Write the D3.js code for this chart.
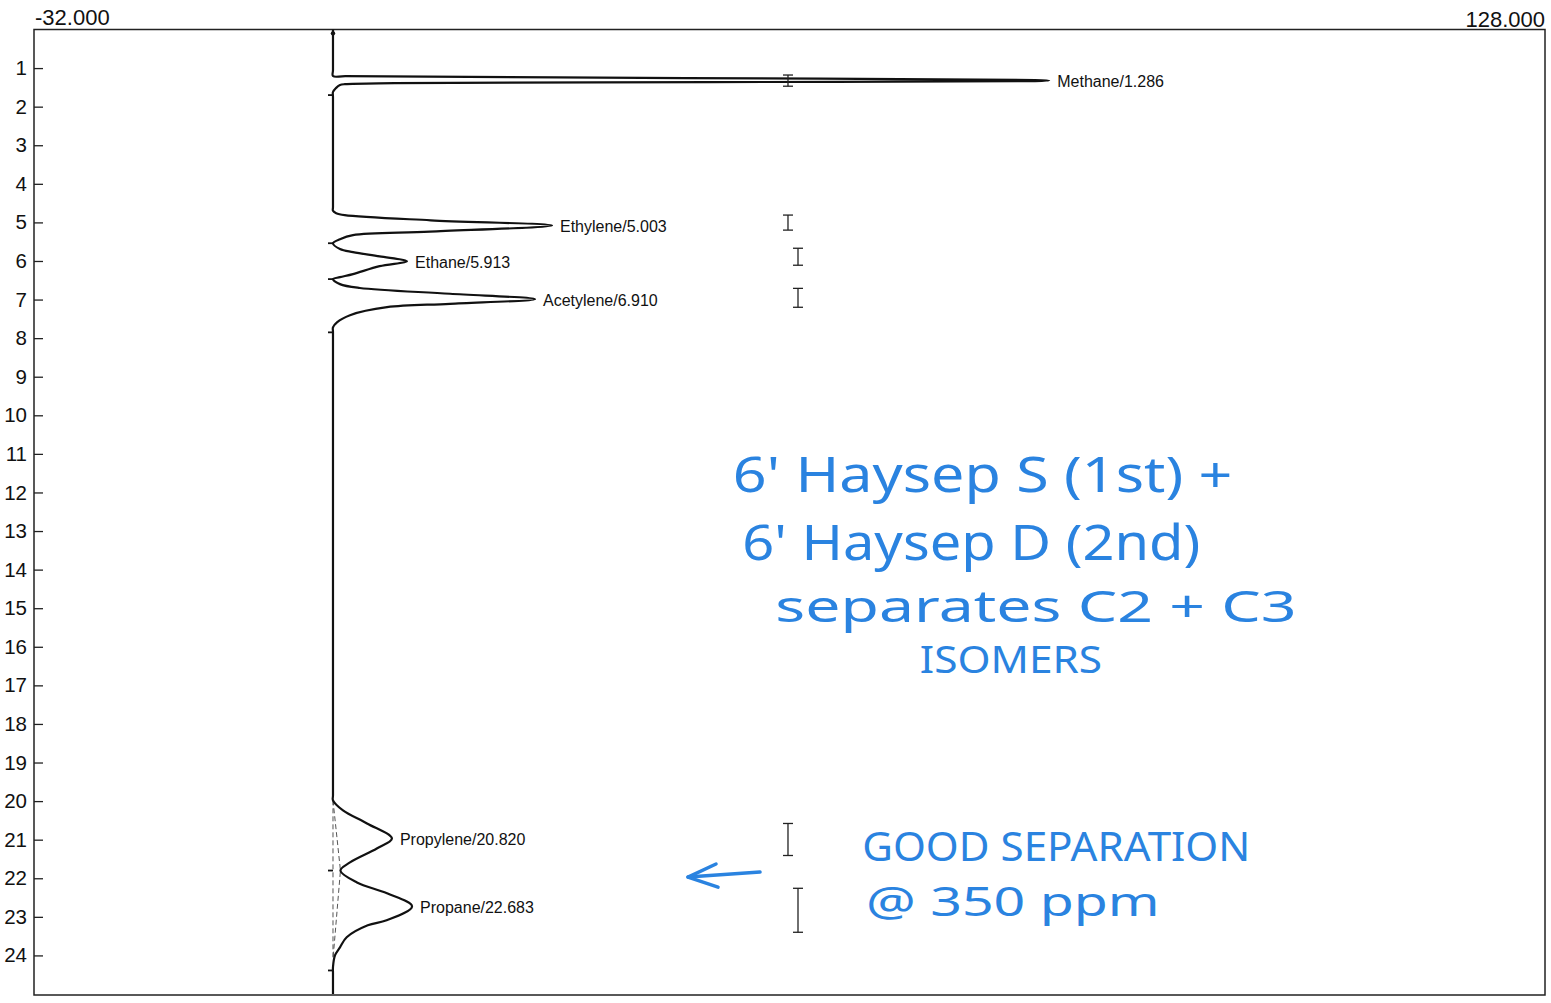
<!DOCTYPE html>
<html>
<head>
<meta charset="utf-8">
<script src="https://cdn.jsdelivr.net/npm/d3@7"></script>
<style>
  body { margin: 0; background: #fff; }
  svg { display: block; }
</style>
</head>
<body>
<div id="chart"></div>
<script>
// chromatogram, drawn sideways: time (min) runs down, signal runs right
var traceTime = [0, 1.05, 1.205, 1.21, 1.26, 1.31, 1.325, 1.338, 1.364, 1.39, 1.416, 1.44, 1.52, 1.62,
  1.75, 4.60, 4.70, 4.76, 4.81, 4.945, 5.08, 5.24, 5.33, 5.435, 5.54,
  5.69, 5.77, 5.88, 6.005, 6.135, 6.34, 6.42, 6.47,
  6.60, 6.70, 6.85, 6.99, 7.11, 7.198, 7.405, 7.59, 7.72,
  7.85, 19.85, 19.98, 20.24, 20.58, 20.97, 21.23, 21.59, 21.80,
  22.11, 22.39, 22.73, 23.09, 23.22, 23.53, 23.79, 24.0, 24.3, 24.45, 25];
var traceSignal = [-0.34, -0.34, -0.34, 1, 37, 74, 75.5, 74, 39.6, 6.2, 0.93, 0.4, -0.03, -0.34,
  -0.34, -0.34, -0.34, 0.0, 0.9, 10, 22.85, 9.93, 1.78, 0.4, -0.34,
  0.4, 1.78, 4.6, 7.5, 4.6, 1.78, 0.4, -0.34,
  0.4, 2.5, 12.05, 21.05, 12.05, 5.38, 1.46, 0.08, -0.34,
  -0.34, -0.34, -0.34, 0.72, 3.26, 5.9, 4.3, 1.46, 0.45,
  2.2, 5.38, 8.03, 5.34, 3.34, 1.11, 0.4, -0.13, -0.34, -0.34, -0.34];

var peakNames = ["Methane", "Ethylene", "Ethane", "Acetylene", "Propylene", "Propane"];
var peakRT = ["1.286", "5.003", "5.913", "6.910", "20.820", "22.683"];

// integration windows ("I" marks)
var winStart = [1.18, 4.81, 5.67, 6.71, 20.58, 22.26];
var winEnd = [1.47, 5.20, 6.11, 7.20, 21.41, 23.40];
var winLevel = [47.84, 47.84, 48.9, 48.9, 47.84, 48.9];

// baseline event ticks
var eventTimes = [1.70, 5.54, 6.47, 7.85, 21.80, 24.39];
// C3 baseline drop: start, valley, end
var dropTime = [19.98, 21.80, 24.1];
var dropSignal = [-0.34, 0.45, -0.34];

var yTicks = d3.range(1, 25);
var xDomain = [-32, 128];
var yDomain = [0, 25];

function drawChart() {
  var w = 1551, h = 1003;
  var svg = d3.select("#chart").append("svg").attr("width", w).attr("height", h);

  var x = d3.scaleLinear().domain(xDomain).range([34, 1545]);
  var y = d3.scaleLinear().domain(yDomain).range([29.5, 994]);

  var ink = "#111";
  var font = "'Liberation Sans', Arial, sans-serif";

  // frame
  svg.append("rect")
    .attr("x", x(xDomain[0])).attr("y", y(yDomain[0]))
    .attr("width", x(xDomain[1]) - x(xDomain[0]))
    .attr("height", y(yDomain[1]) - y(yDomain[0]) + 1)
    .attr("fill", "none").attr("stroke", "#222").attr("stroke-width", 1.5);

  // left time axis, ticks point inward
  var yAxis = svg.append("g")
    .attr("transform", "translate(" + x(xDomain[0]) + ",0)")
    .call(d3.axisLeft(y).tickValues(yTicks).tickSize(-9).tickPadding(7).tickFormat(d3.format("d")));
  yAxis.select(".domain").remove();
  yAxis.selectAll(".tick line").attr("stroke", "#222").attr("stroke-width", 1.3);
  yAxis.selectAll(".tick text").attr("fill", ink).style("font-family", font).style("font-size", "20.5px");

  // signal range labels on top (plain hyphen, as printed)
  var fmt = function (v) { return d3.format(".3f")(v).replace("\u2212", "-"); };
  svg.append("text").attr("x", x(xDomain[0]) + 1).attr("y", 25)
    .attr("font-family", font).attr("font-size", 22).attr("fill", ink)
    .text(fmt(xDomain[0]));
  svg.append("text").attr("x", x(xDomain[1])).attr("y", 27).attr("text-anchor", "end")
    .attr("font-family", font).attr("font-size", 22).attr("fill", ink)
    .text(fmt(xDomain[1]));

  var points = traceTime.map(function (t, i) { return [t, traceSignal[i]]; });

  // dashed baseline drops under C3 pair
  var dropPts = dropTime.map(function (t, i) { return [t, dropSignal[i]]; });
  var seg = d3.line().x(function (d) { return x(d[1]); }).y(function (d) { return y(d[0]); });
  svg.append("path").attr("d", seg(dropPts))
    .attr("fill", "none").attr("stroke", "#555").attr("stroke-width", 1).attr("stroke-dasharray", "5,3");
  svg.append("path").attr("d", seg([dropPts[0], dropPts[2]]))
    .attr("fill", "none").attr("stroke", "#555").attr("stroke-width", 1).attr("stroke-dasharray", "5,3");

  // trace
  var line = d3.line()
    .x(function (d) { return x(d[1]); })
    .y(function (d) { return y(d[0]); })
    .curve(d3.curveCatmullRom.alpha(0.5));
  svg.append("path").attr("d", line(points))
    .attr("fill", "none").attr("stroke", ink).attr("stroke-width", 2.2);

  // start marker at the top of the trace
  svg.append("circle").attr("cx", x(-0.34)).attr("cy", y(0.1)).attr("r", 2.2).attr("fill", ink);

  // event ticks on the baseline
  svg.selectAll(".evt").data(eventTimes).enter().append("line")
    .attr("class", "evt")
    .attr("x1", x(-0.34) - 5).attr("x2", x(-0.34))
    .attr("y1", function (d) { return y(d); }).attr("y2", function (d) { return y(d); })
    .attr("stroke", ink).attr("stroke-width", 1.8);

  // peak labels at apex
  peakNames.forEach(function (name, i) {
    var rt = +peakRT[i];
    var best = null;
    points.forEach(function (p) {
      if (Math.abs(p[0] - rt) < 0.5 && (!best || p[1] > best[1])) best = p;
    });
    svg.append("text")
      .attr("x", x(best[1]) + 8).attr("y", y(best[0]) + 1)
      .attr("dominant-baseline", "central")
      .attr("font-family", font).attr("font-size", 16).attr("fill", ink)
      .text(name + "/" + peakRT[i]);
  });

  // integration window marks
  var cap = 5;
  var wins = svg.selectAll(".win").data(winStart).enter().append("g").attr("class", "win")
    .attr("stroke", "#222").attr("stroke-width", 1.3);
  wins.append("line")
    .attr("x1", function (d, i) { return x(winLevel[i]); }).attr("x2", function (d, i) { return x(winLevel[i]); })
    .attr("y1", function (d) { return y(d); }).attr("y2", function (d, i) { return y(winEnd[i]); });
  wins.append("line")
    .attr("x1", function (d, i) { return x(winLevel[i]) - cap; }).attr("x2", function (d, i) { return x(winLevel[i]) + cap; })
    .attr("y1", function (d) { return y(d); }).attr("y2", function (d) { return y(d); });
  wins.append("line")
    .attr("x1", function (d, i) { return x(winLevel[i]) - cap; }).attr("x2", function (d, i) { return x(winLevel[i]) + cap; })
    .attr("y1", function (d, i) { return y(winEnd[i]); }).attr("y2", function (d, i) { return y(winEnd[i]); });

  // handwritten notes (text, signal from, signal to, time of baseline, size)
  var blue = "#2a83e0";
  var notes = [
    ["6' Haysep S (1st) +", 42.0, 94.9, 11.99, 50],
    ["6' Haysep D (2nd)", 43.0, 91.5, 13.75, 50],
    ["separates C2 + C3", 46.5, 101.7, 15.35, 44],
    ["ISOMERS", 61.8, 81.1, 16.68, 38],
    ["GOOD SEPARATION", 55.7, 96.8, 21.55, 40],
    ["@ 350 ppm", 56.1, 87.2, 22.98, 40]
  ];
  notes.forEach(function (n) {
    svg.append("text")
      .attr("x", x(n[1])).attr("y", y(n[3]))
      .attr("textLength", x(n[2]) - x(n[1])).attr("lengthAdjust", "spacingAndGlyphs")
      .attr("font-family", "'Noto Sans', sans-serif").attr("font-size", n[4])
      .attr("fill", blue).text(n[0]);
  });

  // arrow pointing at the C3 pair
  var arrow = [[21.84, 44.88], [21.97, 37.25]];
  var head = [[21.63, 40.22], [21.97, 37.25], [22.23, 40.43]];
  svg.append("path").attr("d", seg(arrow)).attr("fill", "none")
    .attr("stroke", blue).attr("stroke-width", 3.5).attr("stroke-linecap", "round");
  svg.append("path").attr("d", seg(head)).attr("fill", "none")
    .attr("stroke", blue).attr("stroke-width", 3.5).attr("stroke-linecap", "round").attr("stroke-linejoin", "round");
}
window.onload = drawChart;
</script>
</body>
</html>
